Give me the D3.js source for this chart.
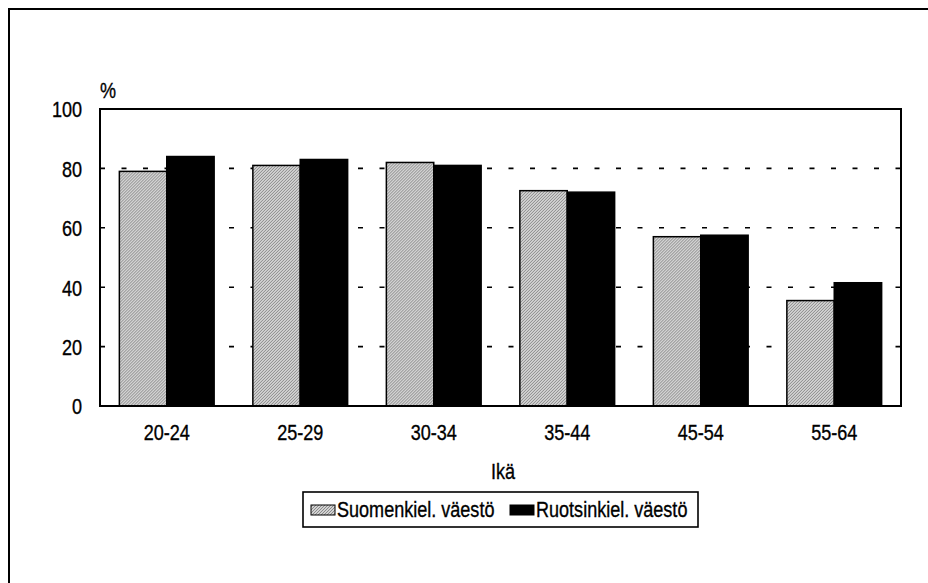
<!DOCTYPE html>
<html>
<head>
<meta charset="utf-8">
<script src="https://cdn.jsdelivr.net/npm/d3@7"></script>
<style>
  html, body { margin: 0; padding: 0; background: #fff; }
  svg text { font-family: "Liberation Sans", Arial, sans-serif; fill: #000; stroke: #000; stroke-width: 0.35px; }
</style>
</head>
<body>
<div id="chart"></div>
<script>
// data
var ages = ['20-24', '25-29', '30-34', '35-44', '45-54', '55-64'];
var seriesNames = ['Suomenkiel. väestö', 'Ruotsinkiel. väestö'];
var suomi = [79, 81, 82, 72.5, 57, 35.5];
var ruotsi = [84, 83, 81, 72, 57.5, 41.5];
var yTicks = [0, 20, 40, 60, 80, 100];

var width = 928, height = 583;
var plot = { left: 100, right: 901, top: 109, bottom: 406 };
var fontSize = '22px';

var svg = d3.select('#chart').append('svg')
    .attr('width', width)
    .attr('height', height);

// fine hatch for the grey bars
var defs = svg.append('defs');
var pat = defs.append('pattern')
    .attr('id', 'hatch')
    .attr('patternUnits', 'userSpaceOnUse')
    .attr('width', 3)
    .attr('height', 3);
pat.append('rect').attr('width', 3).attr('height', 3).attr('fill', '#d2d2d2');
pat.append('path')
    .attr('d', 'M0,3 L3,0 M-1,1 L1,-1 M2,4 L4,2')
    .attr('stroke', '#777')
    .attr('stroke-width', 0.8);

// outer frame (only top and left are visible on the page)
svg.append('path')
    .attr('d', 'M9,' + height + ' L9,9 L' + width + ',9')
    .attr('fill', 'none')
    .attr('stroke', '#000')
    .attr('stroke-width', 2);

var x0 = d3.scaleBand()
    .domain(ages)
    .range([plot.left, plot.right])
    .paddingInner(0.29)
    .paddingOuter(0.145);

var x1 = d3.scaleBand()
    .domain(seriesNames)
    .range([0, x0.bandwidth()]);

var y = d3.scaleLinear()
    .domain([0, 100])
    .range([plot.bottom, plot.top]);

// dashed gridlines
svg.append('g')
  .selectAll('line')
  .data(yTicks.filter(function (d) { return d > 0 && d < 100; }))
  .join('line')
    .attr('x1', plot.left)
    .attr('x2', plot.right)
    .attr('y1', function (d) { return y(d); })
    .attr('y2', function (d) { return y(d); })
    .attr('stroke', '#000')
    .attr('stroke-width', 1.6)
    .attr('stroke-dasharray', '5,16.5');

// bars
var rows = ages.map(function (a, i) {
  return { age: a, values: [suomi[i], ruotsi[i]] };
});

var groups = svg.append('g')
  .selectAll('g')
  .data(rows)
  .join('g')
    .attr('transform', function (d) { return 'translate(' + x0(d.age) + ',0)'; });

groups.selectAll('rect')
  .data(function (d) {
    return d.values.map(function (v, j) { return { key: seriesNames[j], value: v, idx: j }; });
  })
  .join('rect')
    .attr('x', function (d) { return x1(d.key); })
    .attr('y', function (d) { return y(d.value); })
    .attr('width', x1.bandwidth())
    .attr('height', function (d) { return y(0) - y(d.value); })
    .attr('fill', function (d) { return d.idx === 0 ? 'url(#hatch)' : '#000'; })
    .attr('stroke', '#000')
    .attr('stroke-width', 1.5);

// plot frame
svg.append('rect')
    .attr('x', plot.left)
    .attr('y', plot.top)
    .attr('width', plot.right - plot.left)
    .attr('height', plot.bottom - plot.top)
    .attr('fill', 'none')
    .attr('stroke', '#000')
    .attr('stroke-width', 2);

// y axis
var yAxis = svg.append('g')
    .attr('transform', 'translate(' + plot.left + ',0)')
    .call(d3.axisLeft(y).tickValues(yTicks).tickSize(0).tickPadding(18));
yAxis.select('.domain').remove();
yAxis.selectAll('text')
    .style('font-size', fontSize)
    .attr('dy', '0.36em');

// x axis
var xAxis = svg.append('g')
    .attr('transform', 'translate(0,' + plot.bottom + ')')
    .call(d3.axisBottom(x0).tickSize(0).tickPadding(18));
xAxis.select('.domain').remove();
xAxis.selectAll('text')
    .style('font-size', fontSize);

// axis titles
svg.append('text')
    .attr('x', plot.left)
    .attr('y', 98)
    .style('font-size', fontSize)
    .text('%');

svg.append('text')
    .attr('x', 503)
    .attr('y', 479)
    .attr('text-anchor', 'middle')
    .style('font-size', fontSize)
    .text('Ikä');

// legend
var legend = svg.append('g');
legend.append('rect')
    .attr('x', 303)
    .attr('y', 492)
    .attr('width', 395)
    .attr('height', 35)
    .attr('fill', '#fff')
    .attr('stroke', '#000')
    .attr('stroke-width', 1.6);

var legendX = [311, 510];
var items = legend.selectAll('g')
  .data(seriesNames)
  .join('g')
    .attr('transform', function (d, i) { return 'translate(' + legendX[i] + ',0)'; });

items.append('rect')
    .attr('x', 0)
    .attr('y', 505)
    .attr('width', 24)
    .attr('height', 10)
    .attr('fill', function (d, i) { return i === 0 ? 'url(#hatch)' : '#000'; })
    .attr('stroke', '#000')
    .attr('stroke-width', 1);

items.append('text')
    .attr('x', 26)
    .attr('y', 517)
    .style('font-size', fontSize)
    .text(function (d) { return d; });

// the original uses a narrow typeface: squeeze every label horizontally
svg.selectAll('text').each(function () {
  var w = this.getComputedTextLength();
  d3.select(this)
      .attr('textLength', w * 0.82)
      .attr('lengthAdjust', 'spacingAndGlyphs');
});
</script>
</body>
</html>
